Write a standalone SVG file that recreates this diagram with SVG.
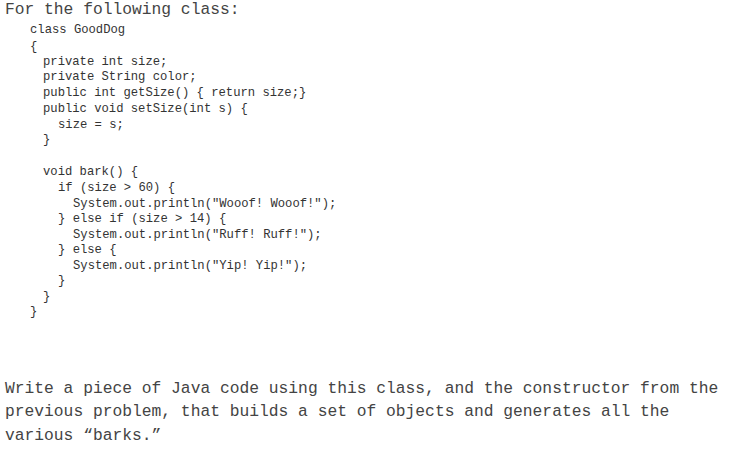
<svg xmlns="http://www.w3.org/2000/svg" width="733" height="459" viewBox="0 0 733 459">
<style>
.b{font-family:"Liberation Mono",monospace;font-size:16.3px;fill:#444}
.c{font-family:"Liberation Mono",monospace;font-size:12.2px;fill:#333;white-space:pre}
</style>
<rect width="733" height="459" fill="#fff"/>
<text class="b" x="5" y="14">For the following class:</text>
<g id="code">
<text class="c" x="30" y="33">class GoodDog</text>
<text class="c" x="30" y="50">{</text>
<text class="c" x="43" y="65">private int size;</text>
<text class="c" x="43" y="80">private String color;</text>
<text class="c" x="43" y="96">public int getSize() { return size;}</text>
<text class="c" x="43" y="112">public void setSize(int s) {</text>
<text class="c" x="58" y="128">size = s;</text>
<text class="c" x="43" y="143">}</text>
<text class="c" x="43" y="175">void bark() {</text>
<text class="c" x="58" y="191">if (size &gt; 60) {</text>
<text class="c" x="73" y="207">System.out.println("Wooof! Wooof!");</text>
<text class="c" x="58" y="222">} else if (size &gt; 14) {</text>
<text class="c" x="73" y="238">System.out.println("Ruff! Ruff!");</text>
<text class="c" x="58" y="253">} else {</text>
<text class="c" x="73" y="269">System.out.println("Yip! Yip!");</text>
<text class="c" x="58" y="284">}</text>
<text class="c" x="43" y="300">}</text>
<text class="c" x="30" y="315">}</text>
</g>
<text class="b" x="5" y="393">Write a piece of Java code using this class, and the constructor from the</text>
<text class="b" x="5" y="416">previous problem, that builds a set of objects and generates all the</text>
<text class="b" x="5" y="440">various “barks.”</text>
</svg>
